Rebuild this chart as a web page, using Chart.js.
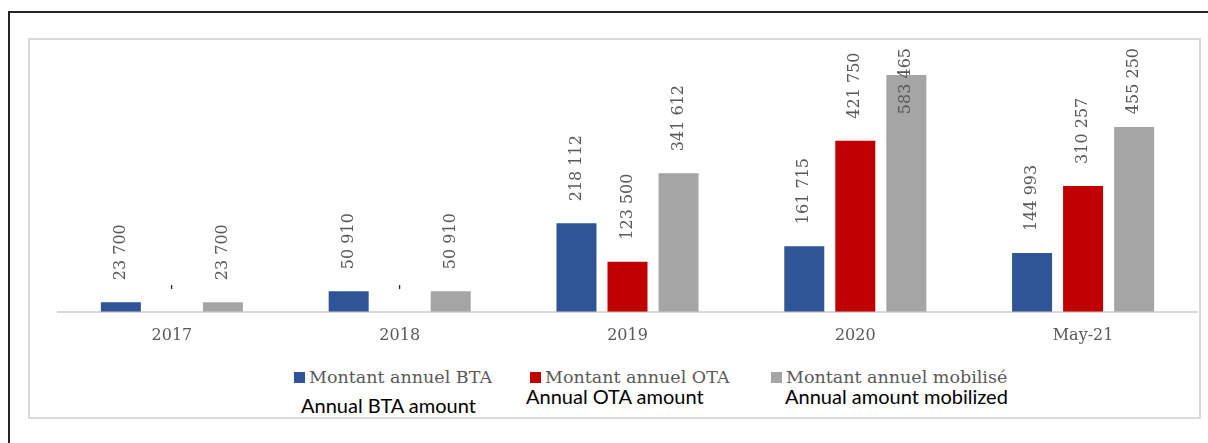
<!DOCTYPE html>
<html>
<head>
<meta charset="utf-8">
<script src="https://cdn.jsdelivr.net/npm/chart.js@4/dist/chart.umd.min.js"></script>
<style>
  body { margin: 0; background: #fff; width: 1208px; height: 443px; overflow: hidden; position: relative; }
  #frame { position: absolute; left: 8px; top: 11px; width: 1230px; height: 470px; border: 2px solid #262626; box-sizing: border-box; }
  #box { position: absolute; left: 28px; top: 38px; width: 1173px; height: 381px; border: 2px solid #d9d9d9; box-sizing: border-box; }
  #wrap { position: absolute; left: 29px; top: 38px; width: 1172px; height: 313px; }
  #legend-container { position: absolute; left: 0; top: 0; }
</style>
</head>
<body>
<div id="frame"></div>
<div id="box"></div>
<div id="wrap"><canvas id="chart"></canvas></div>
<div id="legend-container"></div>
<script>
const labels = ['2017', '2018', '2019', '2020', 'May-21']
const series = {
  'Montant annuel BTA': [23700, 50910, 218112, 161715, 144993],
  'Montant annuel OTA': [0, 0, 123500, 421750, 310257],
  'Montant annuel mobilisé': [23700, 50910, 341612, 583465, 455250],
}
const colors = ['#2F5597', '#C00000', '#A5A5A5']
// english caption under each legend entry + where it sits on the page
const legendPlaces = [
  { en: 'Annual BTA amount', left: 294, top: 367, enLeft: 301, enTop: 393 },
  { en: 'Annual OTA amount', left: 530, top: 367, enLeft: 526, enTop: 384 },
  { en: 'Annual amount mobilized', left: 771, top: 367, enLeft: 785, enTop: 384 },
]

const textColor = '#595959'
const fmt = (v) => String(v).replace(/\B(?=(\d{3})+(?!\d))/g, ' ')

const datasets = Object.keys(series).map((label, index) => ({
  label,
  data: series[label],
  backgroundColor: colors[index],
  borderWidth: 0,
  categoryPercentage: 0.672,
  barPercentage: 0.784,
}))

// vertical value labels above the bars
const barLabels = {
  id: 'barLabels',
  afterDatasetsDraw(chart) {
    const ctx = chart.ctx
    const top = chart.chartArea.top + 2
    chart.data.datasets.forEach((ds, i) => {
      chart.getDatasetMeta(i).data.forEach((bar, j) => {
        const v = ds.data[j]
        const text = v ? fmt(v) : '-'
        ctx.save()
        ctx.font = '16px "DejaVu Serif"'
        ctx.fillStyle = v ? textColor : '#262626'
        const w = ctx.measureText(text).width
        let bottom = bar.y - 22
        if (bottom - w < top) bottom = top + w
        ctx.translate(bar.x, bottom)
        ctx.rotate(-Math.PI / 2)
        ctx.textAlign = 'left'
        ctx.textBaseline = 'middle'
        ctx.fillText(text, 0, 0)
        ctx.restore()
      })
    })
  },
}

const htmlLegendPlugin = {
  id: 'htmlLegend',
  afterUpdate(chart, args, options) {
    const holder = document.getElementById(options.containerID)
    while (holder.firstChild) holder.firstChild.remove()
    const items = chart.options.plugins.legend.labels.generateLabels(chart)
    items.forEach((item, i) => {
      const p = legendPlaces[i]
      const li = document.createElement('div')
      li.style.position = 'absolute'
      li.style.left = p.left + 'px'
      li.style.top = p.top + 'px'
      li.style.display = 'flex'
      li.style.alignItems = 'center'
      li.style.whiteSpace = 'nowrap'

      const boxSpan = document.createElement('span')
      boxSpan.style.background = item.fillStyle
      boxSpan.style.display = 'inline-block'
      boxSpan.style.width = '11px'
      boxSpan.style.height = '11px'
      boxSpan.style.marginRight = '4px'
      boxSpan.style.flexShrink = 0

      const txt = document.createElement('span')
      txt.style.color = textColor
      txt.style.font = '17.5px "DejaVu Serif"'
      txt.style.lineHeight = '20px'
      txt.textContent = item.text

      li.appendChild(boxSpan)
      li.appendChild(txt)
      holder.appendChild(li)

      const en = document.createElement('div')
      en.style.position = 'absolute'
      en.style.left = p.enLeft + 'px'
      en.style.top = p.enTop + 'px'
      en.style.font = '20px Lato'
      en.style.lineHeight = '24px'
      en.style.color = '#000'
      en.style.whiteSpace = 'nowrap'
      en.textContent = p.en
      holder.appendChild(en)
    })
  },
}

const config = {
  type: 'bar',
  data: { labels, datasets },
  options: {
    maintainAspectRatio: false,
    responsive: true,
    animation: false,
    layout: { padding: { left: 29, right: 4, top: 8, bottom: 0 } },
    scales: {
      y: { display: false, min: 0, max: 655000 },
      x: {
        grid: { display: false },
        border: { display: true, color: '#d9d9d9', width: 2 },
        ticks: { color: textColor, padding: 6, font: { family: 'DejaVu Serif', size: 16 } },
      },
    },
    plugins: {
      legend: { display: false },
      tooltip: { enabled: false },
      htmlLegend: { containerID: 'legend-container' },
    },
  },
  plugins: [barLabels, htmlLegendPlugin],
}
new Chart(document.getElementById('chart').getContext('2d'), config)
</script>
</body>
</html>
